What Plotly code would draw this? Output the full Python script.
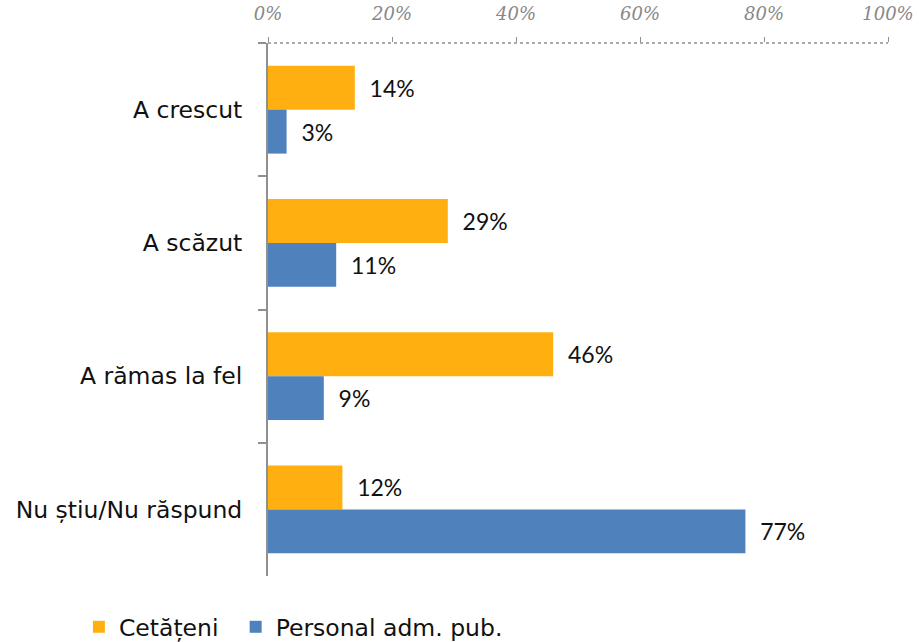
import plotly.graph_objects as go

categories = ["A crescut", "A scăzut", "A rămas la fel", "Nu știu/Nu răspund"]
cetateni = [14, 29, 46, 12]
personal = [3, 11, 9, 77]
series_names = ["Cetățeni\u00a0\u2009", "Personal adm. pub."]
tick_vals = [0, 20, 40, 60, 80, 100]
tick_text = ["0%", "20%", "40%", "60%", "80%", "100%"]

colors = ["#FFB010", "#4F81BD"]

fig = go.Figure()
for name, vals, col in zip(series_names, [cetateni, personal], colors):
    fig.add_trace(go.Bar(
        y=categories, x=vals, name=name, orientation="h",
        marker=dict(color=col, line=dict(width=0)),
        text=vals, texttemplate="\u00a0\u00a0%{x}%", textposition="outside",
        textfont=dict(family="Lato", size=23, color="#111111"),
        cliponaxis=False,
    ))

# dotted top axis line
fig.add_shape(type="line", xref="paper", yref="paper", x0=0, x1=1, y0=1, y1=1,
              line=dict(color="#909090", width=1.5, dash="dot"), layer="above")

fig.update_layout(
    width=919, height=642,
    margin=dict(l=268, r=31, t=43, b=66, autoexpand=False),
    paper_bgcolor="white", plot_bgcolor="white",
    barmode="group", bargap=0.34, bargroupgap=0,
    font=dict(family="DejaVu Sans", color="#111111"),
    showlegend=True,
    legend=dict(orientation="h", x=-0.305, xanchor="left", y=-0.0957, yanchor="middle",
                font=dict(size=23.5, color="#111111"), traceorder="normal",
                itemwidth=30),
    xaxis=dict(
        side="top", range=[0, 100], tickvals=tick_vals, ticktext=tick_text,
        showgrid=False, zeroline=False, showline=False, automargin=False,
        ticks="outside", ticklen=5, tickcolor="#909090", tickwidth=1,
        tickfont=dict(family="DejaVu Serif", size=18, color="#888888", style="italic"),
        ticklabelstandoff=10,
    ),
    yaxis=dict(
        autorange="reversed", showgrid=False, zeroline=False, showline=True,
        linecolor="#909090", linewidth=2, automargin=False,
        ticks="outside", ticklen=8, tickcolor="#909090", tickwidth=2,
        tickson="boundaries",
        tickfont=dict(family="DejaVu Sans", size=23.5, color="#111111"),
        ticklabelstandoff=19,
    ),
)

fig.write_html("out.html", config={"displayModeBar": False},
               post_script="document.body.style.margin='0';")
